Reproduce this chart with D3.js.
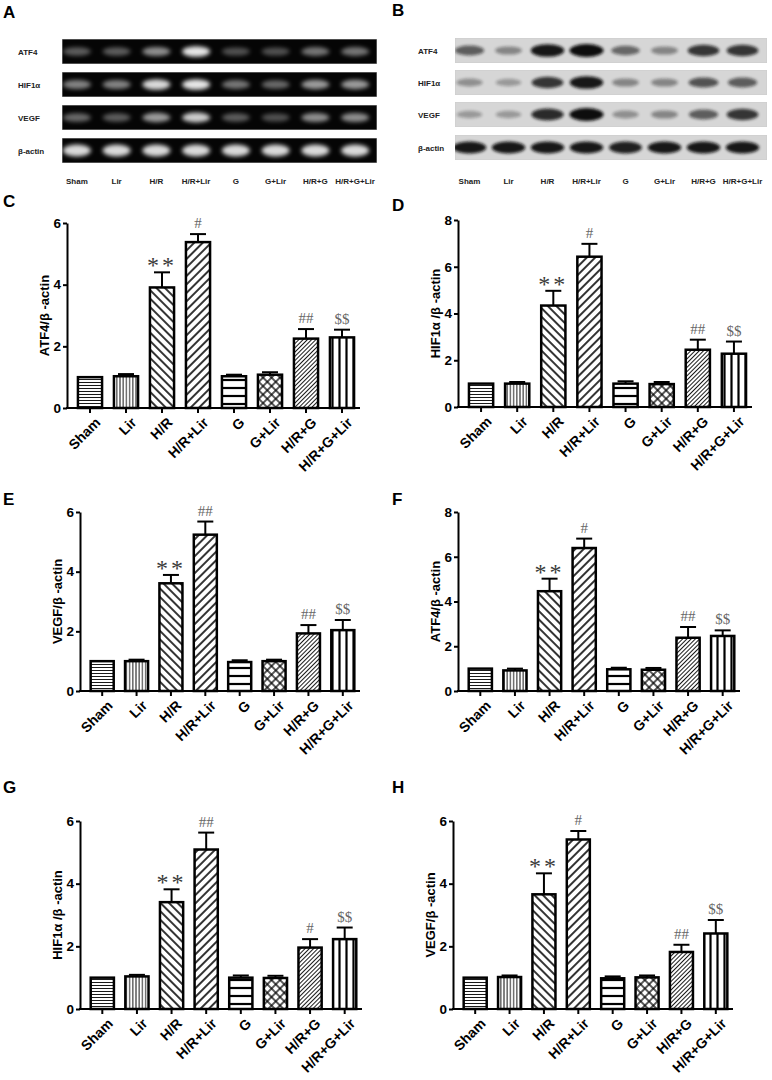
<!DOCTYPE html>
<html lang="en">
<head>
<meta charset="UTF-8">
<title>ATF4 / HIF1a / VEGF</title>
<script src="https://d3js.org/d3.v7.min.js"></script>
<style>
body { margin: 0; background: #fff; }
svg { font-family: Arial, "Liberation Sans", sans-serif; }
</style>
</head>
<body>
<svg width="772" height="1080"></svg>
<script>
// groups (same order in every panel)
var groups = ["Sham", "Lir", "H/R", "H/R+Lir", "G", "G+Lir", "H/R+G", "H/R+G+Lir"];
var blotRows = ["ATF4", "HIF1α", "VEGF", "β-actin"];

// band brightness, gel (A)
var gelATF4 = [0.35, 0.35, 0.55, 0.9, 0.3, 0.3, 0.45, 0.45];
var gelHIF = [0.5, 0.5, 0.85, 0.9, 0.45, 0.4, 0.6, 0.6];
var gelVEGF = [0.4, 0.35, 0.6, 0.8, 0.35, 0.3, 0.55, 0.55];
var gelActin = [1, 1, 1, 1, 1, 1, 1, 1];

// band darkness, western blot (B)
var wbATF4 = [0.6, 0.4, 0.95, 1.0, 0.55, 0.4, 0.8, 0.8];
var wbHIF = [0.35, 0.3, 0.8, 0.95, 0.4, 0.4, 0.65, 0.6];
var wbVEGF = [0.3, 0.3, 0.85, 1.0, 0.35, 0.4, 0.6, 0.8];
var wbActin = [0.95, 0.95, 0.95, 0.95, 0.9, 0.95, 0.95, 0.95];

// C: ATF4/β-actin
var cMean = [1.0, 1.03, 3.91, 5.38, 1.03, 1.08, 2.25, 2.29];
var cSem = [0, 0.07, 0.49, 0.26, 0.05, 0.08, 0.31, 0.25];
var cMark = ["", "", "**", "#", "", "", "##", "$$"];
// D: HIF1α/β-actin
var dMean = [1.0, 1.0, 4.34, 6.43, 1.0, 0.98, 2.45, 2.28];
var dSem = [0, 0.07, 0.63, 0.55, 0.1, 0.09, 0.43, 0.52];
var dMark = ["", "", "**", "#", "", "", "##", "$$"];
// E: VEGF/β-actin
var eMean = [1.0, 1.0, 3.61, 5.24, 0.97, 1.0, 1.93, 2.04];
var eSem = [0, 0.05, 0.28, 0.44, 0.06, 0.05, 0.28, 0.34];
var eMark = ["", "", "**", "##", "", "", "##", "$$"];
// F: ATF4/β-actin
var fMean = [1.0, 0.92, 4.46, 6.39, 0.97, 0.95, 2.38, 2.46];
var fSem = [0, 0.08, 0.56, 0.42, 0.07, 0.08, 0.48, 0.25];
var fMark = ["", "", "**", "#", "", "", "##", "$$"];
// G: HIF1α/β-actin
var gMean = [1.0, 1.04, 3.41, 5.09, 1.0, 0.99, 1.96, 2.23];
var gSem = [0, 0.05, 0.41, 0.54, 0.07, 0.07, 0.27, 0.37];
var gMark = ["", "", "**", "##", "", "", "#", "$$"];
// H: VEGF/β-actin
var hMean = [1.0, 1.02, 3.66, 5.41, 0.98, 1.01, 1.82, 2.41];
var hSem = [0, 0.05, 0.67, 0.27, 0.06, 0.06, 0.23, 0.43];
var hMark = ["", "", "**", "#", "", "", "##", "$$"];

var ticks6 = [0, 2, 4, 6];
var ticks8 = [0, 2, 4, 6, 8];

var svg = d3.select("svg");
var defs = svg.append("defs");

// hatch patterns, one per group
function linePattern(id, size, stroke, rot, lines) {
    var p = defs.append("pattern")
        .attr("id", id)
        .attr("patternUnits", "userSpaceOnUse")
        .attr("width", size).attr("height", size);
    if (rot) p.attr("patternTransform", "rotate(" + rot + ")");
    p.append("rect").attr("width", size).attr("height", size).attr("fill", "#fff");
    lines.forEach(function (l) {
        p.append("line")
            .attr("x1", l[0] * size).attr("y1", l[1] * size)
            .attr("x2", l[2] * size).attr("y2", l[3] * size)
            .attr("stroke", "#000").attr("stroke-width", stroke);
    });
}
var H = [[0, 0.5, 1, 0.5]], V = [[0.5, 0, 0.5, 1]];
linePattern("p0", 3, 0.9, 0, H);
linePattern("p1", 3.2, 0.9, 0, V);
linePattern("p2", 6, 1.6, -45, V);
linePattern("p3", 6, 1.6, 45, V);
linePattern("p4", 8, 2.2, 0, H);
linePattern("p5", 6, 1.3, 45, H.concat(V));
linePattern("p6", 3, 0.9, 45, V);
linePattern("p7", 7, 2.2, 0, V);

var blurGel = defs.append("filter").attr("id", "blurGel")
    .attr("x", "-50%").attr("y", "-100%").attr("width", "200%").attr("height", "300%");
blurGel.append("feGaussianBlur").attr("stdDeviation", 2);
var blurWb = defs.append("filter").attr("id", "blurWb")
    .attr("x", "-50%").attr("y", "-100%").attr("width", "200%").attr("height", "300%");
blurWb.append("feGaussianBlur").attr("stdDeviation", 1.6);

function panelLetter(t, x, y) {
    svg.append("text").attr("x", x).attr("y", y)
        .attr("font-size", 17).attr("font-weight", "bold").text(t);
}

// A and B: gel / blot images
function blot(o) {
    var x = d3.scaleBand().domain(groups).range(o.lanes);
    o.rows.forEach(function (vals, i) {
        var top = o.tops[i];
        var id = "clip" + o.key + i;
        defs.append("clipPath").attr("id", id)
            .append("rect").attr("x", o.box[0]).attr("y", top)
            .attr("width", o.box[1] - o.box[0]).attr("height", o.rowH);
        var g = svg.append("g").attr("clip-path", "url(#" + id + ")");
        g.append("rect")
            .attr("x", o.box[0]).attr("y", top)
            .attr("width", o.box[1] - o.box[0]).attr("height", o.rowH)
            .attr("fill", o.bg).attr("stroke", o.edge).attr("stroke-width", 1);
        var actin = i === 3;
        g.selectAll("ellipse").data(vals).enter().append("ellipse")
            .attr("cx", function (d, j) { return x(groups[j]) + x.bandwidth() / 2; })
            .attr("cy", top + o.rowH / 2)
            .attr("rx", function (d) { return o.dark ? 11 + 6 * d : 14; })
            .attr("ry", function (d) { return actin ? 6 : (o.dark ? 2.5 + 4 * d : 3.5 + 2 * d); })
            .attr("fill", o.band)
            .attr("opacity", function (d) { return actin && !o.dark ? 0.85 : d; })
            .attr("filter", "url(#" + o.filter + ")");
        svg.append("text")
            .attr("x", o.labelX).attr("y", top + o.rowH / 2 + 3)
            .attr("font-size", 8).attr("font-weight", "bold").attr("fill", "#222")
            .text(blotRows[i]);
    });
    svg.selectAll(null).data(groups).enter().append("text")
        .attr("x", function (d) { return x(d) + x.bandwidth() / 2; })
        .attr("y", 184)
        .attr("text-anchor", "middle")
        .attr("font-size", 8).attr("font-weight", "bold").attr("fill", "#222")
        .text(function (d) { return d; });
}

panelLetter("A", 3, 18);
blot({
    key: "A", rows: [gelATF4, gelHIF, gelVEGF, gelActin],
    box: [62, 377], lanes: [57, 375], tops: [39, 72, 105, 138], rowH: 25,
    bg: "#050505", edge: "#999", band: "#fff", dark: false, filter: "blurGel", labelX: 18
});
panelLetter("B", 392, 16);
blot({
    key: "B", rows: [wbATF4, wbHIF, wbVEGF, wbActin],
    box: [455, 767], lanes: [450, 762], tops: [38, 70, 102, 135], rowH: 25,
    bg: "#d6d6d6", edge: "#ccc", band: "#111", dark: true, filter: "blurWb", labelX: 418
});

// C-H: bar charts
function barPanel(o) {
    var x = d3.scaleBand().domain(groups).range([o.ax + 5, o.end]).paddingInner(0.33).paddingOuter(0.165);
    var y = d3.scaleLinear().domain([0, o.ticks[o.ticks.length - 1]]).range([o.y0, o.yTop]);
    var g = svg.append("g");

    panelLetter(o.letter, o.lx, o.ly);

    var bars = g.selectAll(".bar").data(o.mean).enter();
    bars.append("rect")
        .attr("x", function (d, i) { return x(groups[i]); })
        .attr("y", function (d) { return y(d); })
        .attr("width", x.bandwidth())
        .attr("height", function (d) { return o.y0 - y(d); })
        .attr("fill", function (d, i) { return "url(#p" + i + ")"; })
        .attr("stroke", "#000").attr("stroke-width", 2.5);

    // error bars (upper only)
    o.mean.forEach(function (m, i) {
        if (o.sem[i] <= 0) return;
        var cx = x(groups[i]) + x.bandwidth() / 2;
        var yt = y(m + o.sem[i]);
        g.append("line").attr("x1", cx).attr("x2", cx).attr("y1", y(m)).attr("y2", yt)
            .attr("stroke", "#000").attr("stroke-width", 2);
        g.append("line").attr("x1", cx - 8).attr("x2", cx + 8).attr("y1", yt).attr("y2", yt)
            .attr("stroke", "#000").attr("stroke-width", 2);
        var mk = o.mark[i];
        if (mk) {
            var star = mk === "**";
            g.append("text")
                .attr("x", cx).attr("y", star ? yt + 1 : yt - 6)
                .attr("text-anchor", "middle")
                .attr("font-family", "'Liberation Serif', 'Times New Roman', serif")
                .attr("font-size", star ? 24 : 15)
                .attr("letter-spacing", star ? 3 : 0)
                .attr("fill", star ? "#3a3a3a" : "#666")
                .text(star ? "**" : mk);
        }
    });

    // y axis
    var ya = g.append("g").attr("transform", "translate(" + o.ax + ",0)")
        .call(d3.axisLeft(y).tickValues(o.ticks).tickFormat(d3.format("d"))
            .tickSize(4).tickPadding(2).tickSizeOuter(0));
    ya.select(".domain").attr("stroke-width", 2);
    ya.selectAll(".tick line").attr("stroke-width", 2);
    ya.selectAll("text").attr("font-size", 13.5).attr("font-weight", "bold")
        .attr("font-family", "Arial, 'Liberation Sans', sans-serif");

    // x axis
    g.append("line").attr("x1", o.ax - 1).attr("x2", o.end).attr("y1", o.y0).attr("y2", o.y0)
        .attr("stroke", "#000").attr("stroke-width", 2);
    g.selectAll(".xt").data(groups).enter().append("line")
        .attr("x1", function (d) { return x(d) + x.bandwidth() / 2; })
        .attr("x2", function (d) { return x(d) + x.bandwidth() / 2; })
        .attr("y1", o.y0).attr("y2", o.y0 + 5)
        .attr("stroke", "#000").attr("stroke-width", 2);
    g.selectAll(".xl").data(groups).enter().append("text")
        .attr("transform", function (d) {
            return "translate(" + (x(d) + x.bandwidth() / 2 + 4) + "," + (o.y0 + 8) + ") rotate(-45)";
        })
        .attr("text-anchor", "end")
        .attr("dy", "0.75em")
        .attr("font-size", 14).attr("font-weight", "bold")
        .text(function (d) { return d; });

    g.append("text")
        .attr("transform", "translate(" + (o.ax - 18) + "," + ((o.y0 + o.yTop) / 2) + ") rotate(-90)")
        .attr("text-anchor", "middle")
        .attr("font-size", 13).attr("font-weight", "bold")
        .text(o.label);
}

barPanel({ letter: "C", lx: 3, ly: 207, ax: 67, end: 360, y0: 408, yTop: 223, ticks: ticks6,
    mean: cMean, sem: cSem, mark: cMark, label: "ATF4/β -actin" });
barPanel({ letter: "D", lx: 392, ly: 211, ax: 458, end: 752, y0: 407, yTop: 220, ticks: ticks8,
    mean: dMean, sem: dSem, mark: dMark, label: "HIF1α /β -actin" });
barPanel({ letter: "E", lx: 3, ly: 505, ax: 80, end: 360, y0: 691, yTop: 512, ticks: ticks6,
    mean: eMean, sem: eSem, mark: eMark, label: "VEGF/β -actin" });
barPanel({ letter: "F", lx: 392, ly: 505, ax: 458, end: 740, y0: 691, yTop: 512, ticks: ticks8,
    mean: fMean, sem: fSem, mark: fMark, label: "ATF4/β -actin" });
barPanel({ letter: "G", lx: 3, ly: 793, ax: 80, end: 362, y0: 1009, yTop: 821, ticks: ticks6,
    mean: gMean, sem: gSem, mark: gMark, label: "HIF1α /β -actin" });
barPanel({ letter: "H", lx: 392, ly: 793, ax: 453, end: 733, y0: 1009, yTop: 821, ticks: ticks6,
    mean: hMean, sem: hSem, mark: hMark, label: "VEGF/β -actin" });
</script>
</body>
</html>
